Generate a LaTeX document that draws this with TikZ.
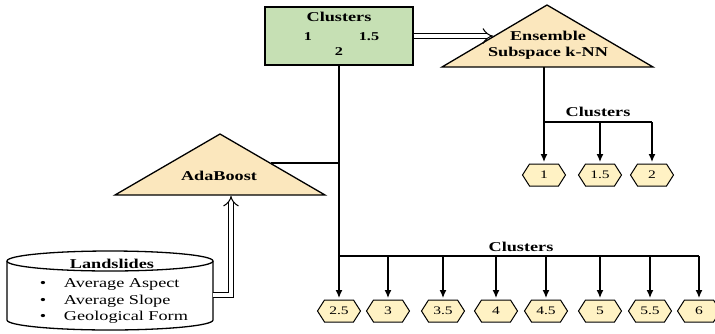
\documentclass[tikz,border=0pt]{standalone}
\usepackage{fontspec}
\setmainfont{Liberation Serif}[FakeStretch=1.35]
\usetikzlibrary{arrows.meta,positioning}
\definecolor{boxgreen}{HTML}{C6E0B4}
\definecolor{trifill}{HTML}{FBE7BD}
\definecolor{hexfill}{HTML}{FFF2C4}

\newcommand{\hexpath}[1]{%
  \draw[fill=hexfill, line width=1pt] (#1.west) -- ([xshift=7pt]#1.north west) -- ([xshift=-7pt]#1.north east)
    -- (#1.east) -- ([xshift=-7pt]#1.south east) -- ([xshift=7pt]#1.south west) -- cycle;}

\begin{document}
\begin{tikzpicture}[x=1pt,y=-1pt,line width=1.3pt,>={Latex[length=8pt,width=7pt]},
    hexa/.style={minimum width=43pt, minimum height=22pt, inner sep=0pt, outer sep=0pt},
    hexnum/.style={font=\fontsize{11.5}{13}\selectfont},
    lbl/.style={font=\bfseries\fontsize{13.5}{16}\selectfont, align=center},
    num/.style={font=\bfseries\fontsize{12}{14}\selectfont},
    item/.style={font=\fontsize{13.5}{15}\selectfont},
    dbl/.style={double, double distance=4.5pt, line width=1pt, -{Implies}}]
  \useasboundingbox (0,0) rectangle (715,333);

  % cluster box on top
  \node[draw, fill=boxgreen, minimum width=148pt, minimum height=58pt] (clusters) at (339,36) {};
  \node[lbl] (ctitle) at (339,17) {Clusters};
  \node[num] (c1) at (308,37) {1};
  \node[num] (c15) at (369,37) {1.5};
  \node[num] (c2) at (339,52) {2};

  % ensemble subspace k-NN
  \draw[fill=trifill] (547,5) -- (442,67) -- (653,67) -- cycle;
  \node[lbl] (esk) at (548,45) {Ensemble\\Subspace k-NN};
  \coordinate (eskL) at (493,36);
  \coordinate (eskB) at (544,67);
  \draw[dbl] (clusters.east) -- (eskL);

  % adaboost
  \draw[fill=trifill] (220,134) -- (115,195) -- (325,195) -- cycle;
  \node[lbl] (ada) at (219,176) {AdaBoost};
  \coordinate (adaR) at (271,163);
  \coordinate (adaB) at (231,196);

  % landslides data
  \draw[fill=white] (7,261) -- (7,320) arc[start angle=180, end angle=360, x radius=103pt, y radius=10pt] -- (213,261);
  \draw (110,261) ellipse[x radius=103pt, y radius=10pt];
  \node[lbl] (land) at (112,264) {Landslides};
  \foreach \t [count=\i] in {Average Aspect,Average Slope,Geological Form} {
    \node[item] (b\i) at (43,268+16.5*\i) {\textbullet};
    \node[item, anchor=west] (l\i) at (60,268+16.5*\i) {\t};
    }
  \coordinate (landR) at (213,295);
  \draw[dbl] (landR) -| (adaB);

  % first group of clusters
  \foreach \x/\v [count=\i] in {544/1,600/1.5,652/2} {
    \node[hexa] (k\i) at (\x,175) {};
    \hexpath{k\i}
    \node[hexnum] at (k\i) {\v};
    }
  \coordinate (bus1) at (544,122);
  \draw (eskB) -- (bus1) -- (bus1 -| k3);
  \node[lbl] (kl) at (598,112) {Clusters};
  \foreach \i in {1,2,3} {
    \draw[->] (bus1 -| k\i) -- ([yshift=2pt]k\i.north);
    }

  % second group of clusters
  \foreach \x/\v [count=\i] in {339/2.5,388/3,443/3.5,496/4,546/4.5,600/5,650/5.5,699/6} {
    \node[hexa] (h\i) at (\x,311) {};
    \hexpath{h\i}
    \node[hexnum] at (h\i) {\v};
    }
  \coordinate (bus2) at (339,256);
  \draw (clusters.south) -- (bus2) -- (bus2 -| h8);
  \draw (adaR) -- (adaR -| clusters.south);
  \node[lbl] (hl) at (521,247) {Clusters};
  \foreach \i in {1,...,8} {
    \draw[->] (bus2 -| h\i) -- ([yshift=2pt]h\i.north);
    }
\end{tikzpicture}
\end{document}
